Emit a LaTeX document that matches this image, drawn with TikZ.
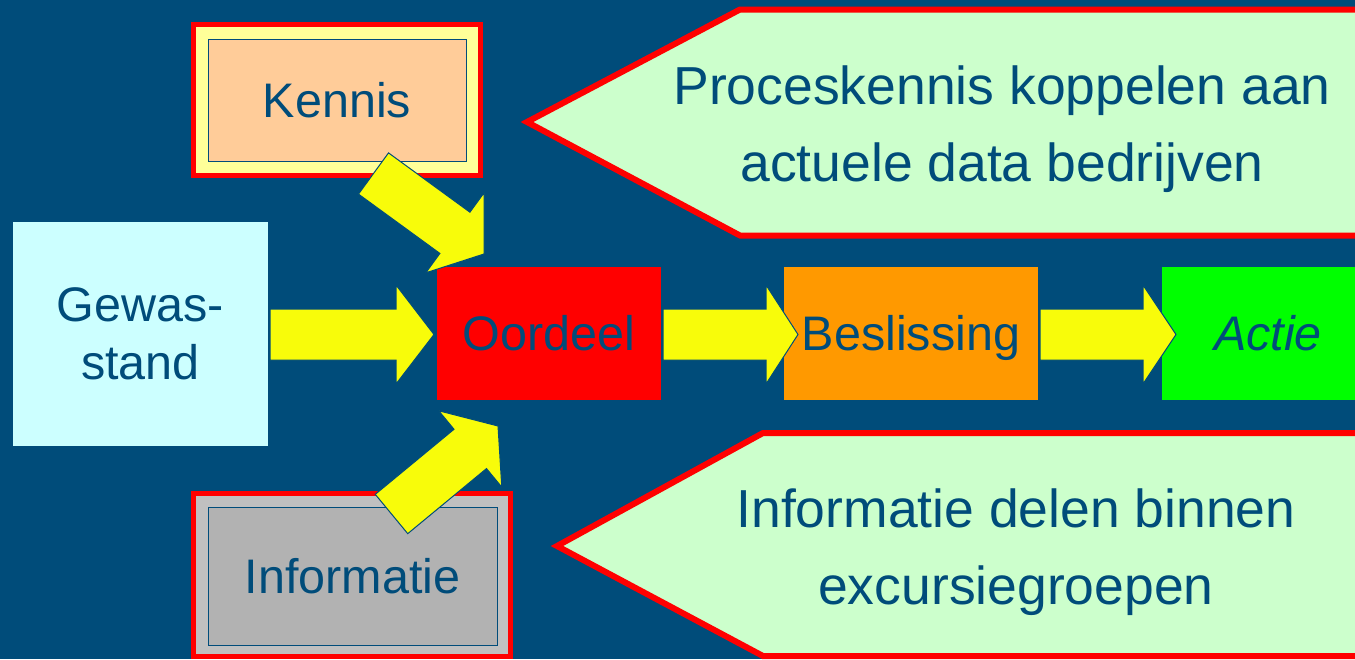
\documentclass[tikz,border=0pt]{standalone}
\usepackage{fontspec}
\setmainfont{Liberation Sans}
\usetikzlibrary{positioning,calc}

\definecolor{achtergrond}{RGB}{0,76,122}
\definecolor{tekstblauw}{RGB}{0,76,122}
\definecolor{pijlgeel}{RGB}{248,252,10}
\definecolor{lichtcyaan}{RGB}{204,255,255}
\definecolor{lichtgeel}{RGB}{255,255,153}
\definecolor{perzik}{RGB}{255,204,153}
\definecolor{zilver}{RGB}{192,192,192}
\definecolor{grijs}{RGB}{178,178,178}
\definecolor{oranje}{RGB}{255,153,0}
\definecolor{felgroen}{RGB}{0,255,0}
\definecolor{lichtgroen}{RGB}{204,255,204}

% blokpijl van #2 naar #3, #1 = lengte van de kop
\newcommand{\blokpijl}[3][36pt]{%
    \coordinate (hals) at ($(#3)!#1!(#2)$);
    \draw[pijl] ($(#2)!25.5pt!90:(#3)$) -- ($(hals)!25.5pt!90:(#3)$) -- ($(hals)!49.5pt!90:(#3)$) -- (#3)
        -- ($(hals)!49.5pt!-90:(#3)$) -- ($(hals)!25.5pt!-90:(#3)$) -- ($(#2)!25.5pt!-90:(#3)$) -- cycle;
}

\begin{document}
\begin{tikzpicture}[x=1pt, y=-1pt]
        \tikzstyle{every node}=[inner sep=0pt, outer sep=0pt, text=tekstblauw, font=\fontsize{48.5}{58}\selectfont]
        \tikzstyle{vak}=[minimum width=254pt, minimum height=133pt, text height=34.7pt, text depth=-2pt]
        \tikzstyle{kader}=[draw=red, line width=5pt]
        \tikzstyle{binnen}=[draw=tekstblauw, line width=1pt, text height=34.7pt, text depth=0pt]
        \tikzstyle{ballon}=[draw=red, line width=6pt, fill=lichtgroen]
        \tikzstyle{ballontekst}=[align=center, text depth=0pt, font=\fontsize{53.5}{77}\selectfont]
        \tikzstyle{pijl}=[draw=achtergrond, line width=1pt, fill=pijlgeel]

        \useasboundingbox (0,0) rectangle (1355,659);
        \fill[achtergrond] (0,0) rectangle (1355,659);
        \clip (0,0) rectangle (1355,659);

        \node (gewas) [fill=lichtcyaan, minimum width=255pt, minimum height=224pt, align=center, text depth=-6pt] at (140.5,334) {Gewas-\\stand};
        \node (oordeel) [vak, fill=red, minimum width=224pt] at (549,333.5) {Oordeel};
        \node (beslissing) [vak, fill=oranje, right=123pt of oordeel] {Beslissing};
        \node (actie) [vak, fill=felgroen, minimum width=212pt, right=124pt of beslissing] {\itshape Actie};

        \node (kennisrand) [kader, fill=lichtgeel, minimum width=287pt, minimum height=151pt] at (337,100) {};
        \node (kennis) [binnen, fill=perzik, minimum width=258pt, minimum height=122pt] at (kennisrand) {Kennis};
        \node (informatierand) [kader, fill=zilver, minimum width=317pt, minimum height=163pt] at (352,575) {};
        \node (informatie) [binnen, fill=grijs, minimum width=289pt, minimum height=138pt] at (352.5,576) {Informatie};

        \draw[ballon] (527,122) -- (740,9.5) -- (1400,9.5) -- (1400,235.5) -- (740,235.5) -- cycle;
        \node (proceskennis) [ballontekst] at (1002,124) {Proceskennis koppelen aan\\actuele data bedrijven};
        \draw[ballon] (557,546) -- (763,433) -- (1400,433) -- (1400,656) -- (763,656) -- cycle;
        \node (delen) [ballontekst] at (1016,547) {Informatie delen binnen\\excursiegroepen};

        \coordinate (gewasuit) at ($(gewas.east)+(2,0.5)$);
        \coordinate (oordeelin) at ($(oordeel.west)+(-3,1)$);
        \coordinate (oordeeluit) at ($(oordeel.east)+(2,1)$);
        \coordinate (beslissingin) at ($(beslissing.west)+(14,1)$);
        \coordinate (beslissinguit) at ($(beslissing.east)+(2,1)$);
        \coordinate (actiein) at ($(actie.west)+(14,1)$);
        \coordinate (kennisuit) at ($(kennisrand.south)+(36.5,-2)$);
        \coordinate (oordeelboven) at ($(oordeel.north)+(-65,-13)$);
        \coordinate (informatieuit) at ($(informatierand.north)+(39.5,20.5)$);
        \coordinate (oordeelonder) at ($(oordeel.south)+(-51,26)$);

        \blokpijl[38pt]{gewasuit}{oordeelin}
        \blokpijl[32pt]{oordeeluit}{beslissingin}
        \blokpijl[33pt]{beslissinguit}{actiein}
        \blokpijl{kennisuit}{oordeelboven}
        \blokpijl{informatieuit}{oordeelonder}

\end{tikzpicture}
\end{document}
